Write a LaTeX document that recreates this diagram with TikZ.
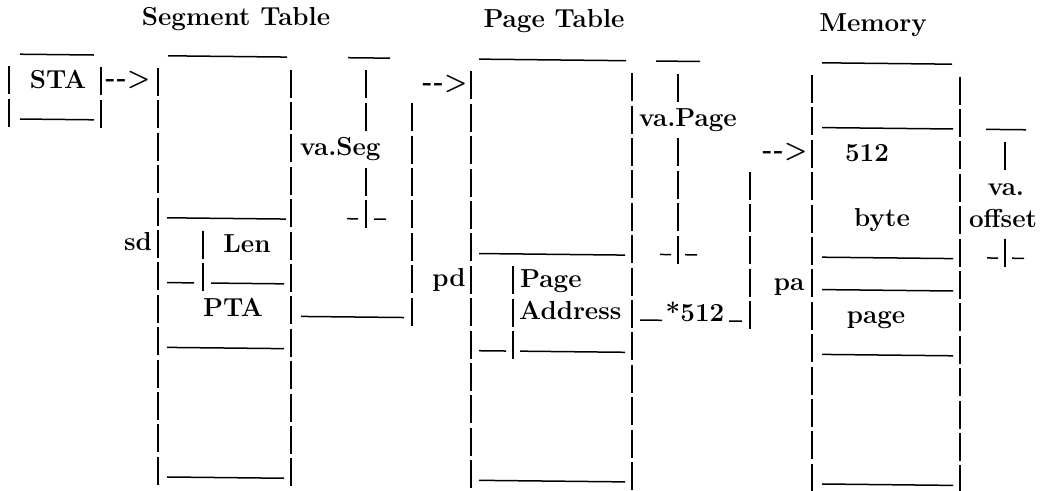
\documentclass[tikz,border=0pt]{standalone}
\newcommand\arr{-\kern1.5pt-\kern0.5pt>}
\tikzset{
  vbar/.style={line width=2.2pt, dash pattern=on 28pt off 4.4pt},
  hline/.style={line width=1.5pt},
  txt/.style={anchor=base, inner sep=0pt, font=\fontsize{26}{26}\selectfont\bfseries},
  txtl/.style={txt, anchor=base west},
}
\begin{document}
\begin{tikzpicture}[x=1pt,y=-1pt,
  declare function={T(\k)=66.4+32.4*\k; B(\k)=86.4+32.4*\k; R(\k,\x)=87.4+32.4*\k+0.0107*\x;}]
\fill[white] (0,0) rectangle (1043,490);
\useasboundingbox (0,0) rectangle (1043,490);
\begin{scope}[yslant=-0.0107]
% vertical bars
\draw[vbar] (9,{T(0)}) -- (9,{T(1)+28});
\draw[vbar] (101,{T(0)}) -- (101,{T(1)+28});
\draw[vbar] (158,{T(0)}) -- (158,{T(12)+28});
\draw[vbar] (291,{T(0)}) -- (291,{T(12)+28});
\draw[vbar] (203,{T(5)}) -- (203,{T(6)+28});
\draw[vbar] (366,{T(0)}) -- (366,{T(1)+28});
\draw[vbar] (366,{T(3)}) -- (366,{T(4)+28});
\draw[vbar] (412,{T(1)}) -- (412,{T(7)+28});
\draw[vbar] (471,{T(0)}) -- (471,{T(12)+28});
\draw[vbar] (632,{T(0)}) -- (632,{T(12)+28});
\draw[vbar] (513,{T(6)}) -- (513,{T(8)+28});
\draw[vbar] (678,{T(0)}) -- (678,{T(0)+28});
\draw[vbar] (678,{T(2)}) -- (678,{T(5)+28});
\draw[vbar] (750,{T(3)}) -- (750,{T(7)+28});
\draw[vbar] (812,{T(0)}) -- (812,{T(12)+28});
\draw[vbar] (960,{T(0)}) -- (960,{T(12)+28});
\draw[vbar] (1005,{T(2)}) -- (1005,{T(2)+28});
\draw[vbar] (1005,{T(5)}) -- (1005,{T(5)+28});

% horizontal lines
\draw[hline] (20,{B(-1)}) -- (94,{B(-1)});
\draw[hline] (20,{B(1)}) -- (94,{B(1)});
\draw[hline] (168,{B(-1)}) -- (287,{B(-1)});
\draw[hline] (167,{B(4)}) -- (286,{B(4)});
\draw[hline] (167,{B(6)}) -- (194,{B(6)});
\draw[hline] (211,{B(6)}) -- (284,{B(6)});
\draw[hline] (167,{B(8)}) -- (284,{B(8)});
\draw[hline] (167,{B(12)}) -- (284,{B(12)});
\draw[hline] (348,{B(-1)}) -- (390,{B(-1)});
\draw[hline] (347,{B(4)-1}) -- (358,{B(4)-1});
\draw[hline] (374,{B(4)-1}) -- (386,{B(4)-1});
\draw[hline] (301,{B(7)}) -- (404,{B(7)});
\draw[hline] (479,{B(-1)}) -- (626,{B(-1)});
\draw[hline] (479,{B(5)}) -- (625,{B(5)});
\draw[hline] (479,{B(8)}) -- (506,{B(8)});
\draw[hline] (520,{B(8)}) -- (625,{B(8)});
\draw[hline] (479,{B(12)}) -- (625,{B(12)});
\draw[hline] (656,{B(-1)}) -- (700,{B(-1)});
\draw[hline] (660,{B(5)-1}) -- (671,{B(5)-1});
\draw[hline] (685,{B(5)-1}) -- (697,{B(5)-1});
\draw[hline] (640,{B(7)}) -- (662,{B(7)});
\draw[hline] (729,{B(7)}) -- (742,{B(7)});
\draw[hline] (822,{B(-1)}) -- (952,{B(-1)});
\draw[hline] (822,{B(1)}) -- (953,{B(1)});
\draw[hline] (822,{B(5)}) -- (953,{B(5)});
\draw[hline] (822,{B(6)}) -- (953,{B(6)});
\draw[hline] (822,{B(8)}) -- (953,{B(8)});
\draw[hline] (822,{B(12)}) -- (953,{B(12)});
\draw[hline] (986,{B(1)}) -- (1026,{B(1)});
\draw[hline] (987,{B(5)-1}) -- (998,{B(5)-1});
\draw[hline] (1012,{B(5)-1}) -- (1024,{B(5)-1});
\end{scope}

% titles
\node[txt] (tseg) at (236,25) {Segment Table};
\node[txt] (tpage) at (554,27) {Page Table};
\node[txt] (tmem) at (873,31) {Memory};

% texts
\node[txt] (sta) at (58,{R(0,58)}) {STA};
\node[txt] (a1) at (128,{R(0,128)-2}) {\arr};
\node[txt] (sd) at (138,{R(5,138)}) {sd};
\node[txt] (len) at (247,{R(5,247)}) {Len};
\node[txt] (pta) at (233,{R(7,233)}) {PTA};
\node[txtl] (vaseg) at (300,{R(2,300)}) {va.Seg};
\node[txt] (a2) at (445,{R(0,445)-2}) {\arr};
\node[txtl] (vapage) at (639,{R(1,639)}) {va.Page};
\node[txt] (pd) at (449,{R(6,449)}) {pd};
\node[txtl] (pg) at (520,{R(6,520)}) {Page};
\node[txtl] (addr) at (519,{R(7,519)}) {Address};
\node[txt] (m512) at (695,{R(7,695)}) {*512};
\node[txt] (a3) at (785,{R(2,785)-2}) {\arr};
\node[txt] (n512) at (867,{R(2,867)}) {512};
\node[txt] (byte) at (882,{R(4,882)}) {byte};
\node[txt] (pa) at (789,{R(6,789)}) {pa};
\node[txt] (page) at (876,{R(7,876)}) {page};
\node[txt] (va) at (1006,{R(3,1006)}) {va.};
\node[txt] (offs) at (1003,{R(4,1003)}) {offset};
\end{tikzpicture}
\end{document}
